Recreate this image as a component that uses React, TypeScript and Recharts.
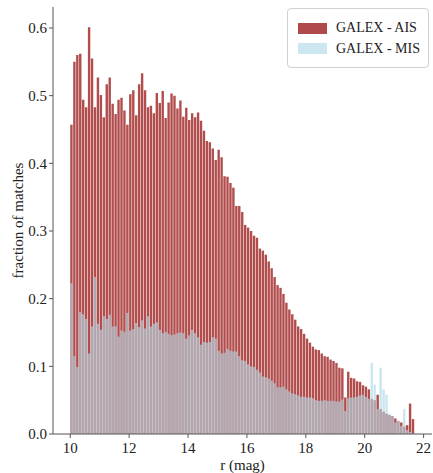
import React from 'react';
import {
  ComposedChart, Bar, XAxis, YAxis, Legend, Label,
} from 'recharts';

// histogram bins: 0.1 mag wide, starting at r = 10.0
const binStart = 10.0;
const binWidth = 0.1;

// fraction of matches per bin, GALEX AIS
const aisValues = [
  0.457, 0.550, 0.560, 0.562, 0.494, 0.483, 0.601, 0.555, 0.483, 0.527,
  0.501, 0.468, 0.517, 0.527, 0.488, 0.473, 0.494, 0.497, 0.478, 0.457,
  0.502, 0.508, 0.471, 0.517, 0.533, 0.508, 0.483, 0.485, 0.474, 0.504,
  0.489, 0.507, 0.467, 0.490, 0.503, 0.500, 0.481, 0.493, 0.469, 0.482,
  0.464, 0.474, 0.468, 0.475, 0.463, 0.448, 0.433, 0.431, 0.422, 0.405,
  0.420, 0.409, 0.381, 0.380, 0.371, 0.364, 0.337, 0.337, 0.328, 0.309,
  0.305, 0.300, 0.293, 0.290, 0.274, 0.271, 0.265, 0.255, 0.245, 0.232,
  0.220, 0.216, 0.207, 0.194, 0.184, 0.177, 0.169, 0.159, 0.155, 0.148,
  0.141, 0.135, 0.129, 0.125, 0.124, 0.119, 0.115, 0.114, 0.110, 0.108,
  0.105, 0.098, 0.097, 0.054, 0.092, 0.083, 0.082, 0.078, 0.077, 0.072,
  0.070, 0.066, 0.052, 0.050, 0.058, 0.037, 0.033, 0.030, 0.028, 0.026,
  0.023, 0.019, 0.017, 0.011, 0.013, 0.045, 0.022,
];

// fraction of matches per bin, GALEX MIS
const misValues = [
  0.223, 0.115, 0.099, 0.180, 0.177, 0.170, 0.119, 0.159, 0.232, 0.163,
  0.154, 0.174, 0.170, 0.176, 0.159, 0.159, 0.144, 0.153, 0.151, 0.179,
  0.153, 0.155, 0.164, 0.158, 0.168, 0.156, 0.174, 0.159, 0.163, 0.165,
  0.154, 0.149, 0.151, 0.148, 0.146, 0.147, 0.149, 0.150, 0.149, 0.141,
  0.146, 0.154, 0.149, 0.143, 0.132, 0.136, 0.135, 0.136, 0.143, 0.141,
  0.123, 0.119, 0.120, 0.126, 0.123, 0.122, 0.122, 0.115, 0.109, 0.108,
  0.103, 0.100, 0.099, 0.095, 0.091, 0.085, 0.084, 0.082, 0.079, 0.075,
  0.069, 0.069, 0.070, 0.066, 0.063, 0.060, 0.059, 0.057, 0.055, 0.055,
  0.054, 0.054, 0.053, 0.050, 0.049, 0.049, 0.050, 0.049, 0.049, 0.049,
  0.048, 0.048, 0.051, 0.034, 0.053, 0.054, 0.054, 0.055, 0.057, 0.058,
  0.055, 0.052, 0.105, 0.073, 0.037, 0.098, 0.066, 0.058, 0.030, 0.025,
  0.017, 0.020, 0.012, 0.037, 0.006, 0.003, 0.001,
];

const xTicks = [10, 12, 14, 16, 18, 20, 22];
const yTicks = [0, 0.1, 0.2, 0.3, 0.4, 0.5, 0.6];

const seriesNames = ['GALEX - AIS', 'GALEX - MIS'];

const data = aisValues.map((v, i) => ({
  r: Math.round((binStart + binWidth * (i + 0.5)) * 1000) / 1000,
  ais: v,
  mis: misValues[i],
}));

const font = '"Liberation Serif", "DejaVu Serif", serif';
const axisColor = '#555';
const xDomain = [9.415, 22.285];

const renderLegend = () => (
  <div
    style={{
      border: '1px solid #d0d0d0',
      borderRadius: 4,
      background: 'rgba(255,255,255,0.8)',
      padding: '9px 8px 8px 10px',
      fontFamily: font,
      fontSize: 14,
      color: '#222',
      whiteSpace: 'nowrap',
    }}
  >
    {seriesNames.map((name, i) => (
      <div key={name} style={{ display: 'flex', alignItems: 'center', height: 20.5 }}>
        <div
          style={{
            width: 29,
            height: 11,
            marginRight: 9,
            background: i === 0 ? '#b04a4a' : '#cde7f0',
          }}
        />
        <span>{name}</span>
      </div>
    ))}
  </div>
);

const YLabel = (props: any) => {
  const vb = props.viewBox;
  const cy = vb.y + vb.height / 2;
  return (
    <text
      x={18}
      y={cy}
      transform={`rotate(-90, 18, ${cy})`}
      textAnchor="middle"
      dominantBaseline="central"
      fontFamily={font}
      fontSize={15}
      fill="#222"
    >
      fraction of matches
    </text>
  );
};

export default function App() {
  return (
    <div style={{ position: 'absolute', left: 0, top: 0, background: '#fff' }}>
      <ComposedChart
        width={433}
        height={473}
        data={data}
        margin={{ top: 7, right: 1, bottom: 0, left: 0 }}
      >
        <XAxis
          xAxisId="ais"
          dataKey="r"
          type="number"
          domain={xDomain}
          allowDataOverflow
          ticks={xTicks}
          height={39}
          tickSize={4}
          tickMargin={4}
          stroke={axisColor}
          tick={{ fill: '#222', fontSize: 15, fontFamily: font }}
        >
          <Label
            value="r (mag)"
            position="insideBottom"
            offset={3}
            style={{ fill: '#222', fontSize: 15, fontFamily: font }}
          />
        </XAxis>
        <XAxis xAxisId="mis" dataKey="r" type="number" domain={xDomain} allowDataOverflow hide />
        <XAxis
          xAxisId="top"
          orientation="top"
          type="number"
          domain={xDomain}
          allowDataOverflow
          height={0}
          tick={false}
          tickLine={false}
          stroke={axisColor}
        />
        <YAxis
          yAxisId="left"
          type="number"
          domain={[0, 0.631]}
          allowDataOverflow
          ticks={yTicks}
          width={53}
          tickSize={4}
          tickMargin={2}
          stroke={axisColor}
          tickFormatter={(v: number) => v.toFixed(1)}
          tick={{ fill: '#222', fontSize: 15, fontFamily: font }}
        >
          <Label content={<YLabel />} />
        </YAxis>
        <YAxis
          yAxisId="right"
          orientation="right"
          domain={[0, 0.631]}
          width={0}
          tick={false}
          tickLine={false}
          stroke={axisColor}
        />
        <Legend
          layout="horizontal"
          verticalAlign="middle"
          align="center"
          content={renderLegend}
          wrapperStyle={{ top: 8, left: 'auto', right: 4, width: 'auto', height: 'auto' }}
        />
        <Bar
          xAxisId="ais"
          yAxisId="left"
          dataKey="ais"
          name={seriesNames[0]}
          barSize={2.4}
          fill="#a83a3a"
          fillOpacity={0.9}
          isAnimationActive={false}
        />
        <Bar
          xAxisId="mis"
          yAxisId="left"
          dataKey="mis"
          name={seriesNames[1]}
          barSize={2.4}
          fill="#add8e6"
          fillOpacity={0.65}
          isAnimationActive={false}
        />
      </ComposedChart>
    </div>
  );
}
